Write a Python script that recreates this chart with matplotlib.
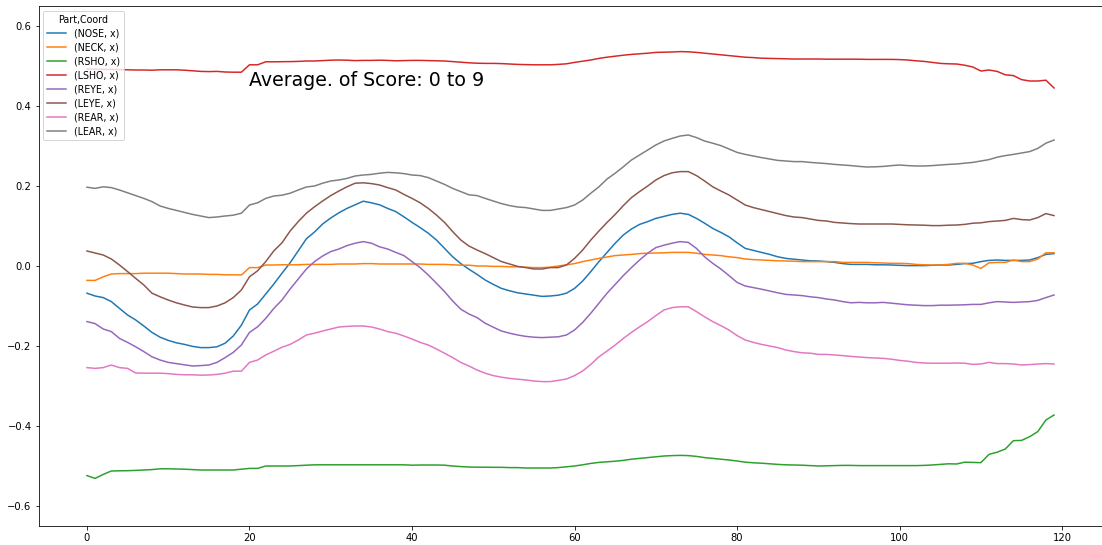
import matplotlib
matplotlib.use("Agg")
import matplotlib.pyplot as plt
import numpy as np

frames = list(range(120))

nose_x = [-0.068, -0.075, -0.079, -0.089, -0.106, -0.1225, -0.135, -0.150, -0.166, -0.178,
          -0.186, -0.192, -0.196, -0.201, -0.204, -0.204, -0.202, -0.193, -0.175, -0.148,
          -0.110, -0.095, -0.070, -0.045, -0.018, 0.008, 0.038, 0.068, 0.085, 0.105,
          0.120, 0.133, 0.144, 0.153, 0.162, 0.158, 0.153, 0.144, 0.136, 0.123,
          0.109, 0.096, 0.082, 0.065, 0.044, 0.023, 0.006, -0.008, -0.021, -0.035,
          -0.046, -0.056, -0.062, -0.067, -0.070, -0.073, -0.076, -0.075, -0.073, -0.068,
          -0.056, -0.0375, -0.014, 0.011, 0.034, 0.057, 0.0775, 0.0925, 0.104, 0.111,
          0.119, 0.124, 0.129, 0.132, 0.129, 0.119, 0.107, 0.094, 0.084, 0.073,
          0.058, 0.044, 0.039, 0.034, 0.029, 0.023, 0.019, 0.017, 0.015, 0.013,
          0.0125, 0.011, 0.009, 0.006, 0.004, 0.004, 0.004, 0.003, 0.003, 0.0025,
          0.0017, 0.001, 0.001, 0.001, 0.0017, 0.0025, 0.0025, 0.004, 0.006, 0.0067,
          0.011, 0.014, 0.015, 0.014, 0.014, 0.014, 0.015, 0.021, 0.029, 0.031]

neck_x = [-0.036, -0.036, -0.027, -0.020, -0.019, -0.019, -0.019, -0.018, -0.018, -0.018,
          -0.018, -0.019, -0.020, -0.020, -0.020, -0.021, -0.021, -0.022, -0.022, -0.0225,
          -0.004, -0.004, 0.0025, 0.0025, 0.003, 0.003, 0.003, 0.004, 0.004, 0.004,
          0.004, 0.005, 0.005, 0.005, 0.006, 0.006, 0.005, 0.005, 0.005, 0.005,
          0.005, 0.005, 0.004, 0.004, 0.004, 0.003, 0.002, 0.002, 0.000, 0.000,
          -0.001, -0.001, -0.002, -0.002, -0.003, -0.004, -0.004, -0.003, 0.000, 0.003,
          0.006, 0.011, 0.015, 0.019, 0.0225, 0.026, 0.0275, 0.029, 0.031, 0.032,
          0.0325, 0.033, 0.034, 0.034, 0.034, 0.032, 0.029, 0.0275, 0.026, 0.023,
          0.021, 0.0175, 0.016, 0.015, 0.014, 0.013, 0.0125, 0.012, 0.011, 0.011,
          0.011, 0.011, 0.011, 0.009, 0.009, 0.009, 0.009, 0.008, 0.0075, 0.0067,
          0.0067, 0.006, 0.004, 0.003, 0.0025, 0.0025, 0.004, 0.0067, 0.0067, 0.0025,
          -0.006, 0.008, 0.009, 0.009, 0.015, 0.011, 0.011, 0.0175, 0.033, 0.033]

rsho_x = [-0.524, -0.531, -0.521, -0.5125, -0.512, -0.5117, -0.511, -0.510, -0.509, -0.507,
          -0.507, -0.5075, -0.508, -0.509, -0.510, -0.510, -0.510, -0.510, -0.510, -0.508,
          -0.506, -0.506, -0.500, -0.500, -0.500, -0.500, -0.499, -0.498, -0.497, -0.497,
          -0.497, -0.497, -0.497, -0.497, -0.497, -0.497, -0.497, -0.497, -0.497, -0.497,
          -0.498, -0.4975, -0.4975, -0.4975, -0.498, -0.500, -0.5015, -0.5025, -0.503, -0.503,
          -0.5033, -0.5033, -0.504, -0.504, -0.505, -0.505, -0.505, -0.505, -0.504, -0.502,
          -0.500, -0.497, -0.4935, -0.491, -0.4895, -0.488, -0.486, -0.483, -0.481, -0.479,
          -0.477, -0.475, -0.474, -0.4735, -0.474, -0.476, -0.479, -0.481, -0.483, -0.485,
          -0.4875, -0.4905, -0.492, -0.493, -0.4945, -0.496, -0.497, -0.4975, -0.498, -0.499,
          -0.500, -0.4995, -0.499, -0.4985, -0.4985, -0.499, -0.499, -0.499, -0.499, -0.499,
          -0.499, -0.499, -0.499, -0.4985, -0.4975, -0.496, -0.4945, -0.495, -0.4905, -0.491,
          -0.4917, -0.4708, -0.4655, -0.4575, -0.4367, -0.436, -0.4267, -0.414, -0.385, -0.3725]

lsho_x = [0.4925, 0.4920, 0.4915, 0.4915, 0.491, 0.4905, 0.490, 0.490, 0.4895, 0.4905,
          0.4905, 0.4905, 0.4895, 0.488, 0.4865, 0.486, 0.4865, 0.485, 0.4845, 0.4845,
          0.503, 0.503, 0.5105, 0.5105, 0.5108, 0.511, 0.5115, 0.5125, 0.5125, 0.5135,
          0.5145, 0.515, 0.5145, 0.5135, 0.514, 0.514, 0.5145, 0.514, 0.513, 0.5135,
          0.514, 0.514, 0.5135, 0.513, 0.5125, 0.511, 0.5095, 0.508, 0.507, 0.5065,
          0.5065, 0.506, 0.505, 0.504, 0.5035, 0.503, 0.503, 0.503, 0.504, 0.5055,
          0.509, 0.512, 0.515, 0.519, 0.522, 0.5245, 0.527, 0.529, 0.5305, 0.532,
          0.534, 0.5345, 0.535, 0.536, 0.5355, 0.534, 0.532, 0.530, 0.528, 0.526,
          0.524, 0.522, 0.521, 0.5195, 0.519, 0.5185, 0.518, 0.5175, 0.5175, 0.5175,
          0.5175, 0.517, 0.517, 0.517, 0.517, 0.517, 0.5165, 0.5165, 0.5165, 0.5165,
          0.516, 0.515, 0.513, 0.5115, 0.509, 0.5065, 0.5055, 0.505, 0.502, 0.4975,
          0.4875, 0.490, 0.4865, 0.478, 0.476, 0.466, 0.4625, 0.4625, 0.4645, 0.445]

reye_x = [-0.139, -0.144, -0.1575, -0.164, -0.181, -0.191, -0.202, -0.214, -0.227, -0.235,
          -0.241, -0.244, -0.247, -0.250, -0.249, -0.2475, -0.241, -0.229, -0.216, -0.1975,
          -0.166, -0.152, -0.131, -0.106, -0.085, -0.0575, -0.0325, -0.0075, 0.011, 0.025,
          0.036, 0.0425, 0.051, 0.057, 0.061, 0.057, 0.048, 0.0425, 0.034, 0.026,
          0.011, -0.004, -0.0225, -0.043, -0.064, -0.0875, -0.108, -0.120, -0.129, -0.143,
          -0.153, -0.1625, -0.168, -0.1725, -0.176, -0.178, -0.179, -0.178, -0.177, -0.1725,
          -0.160, -0.141, -0.118, -0.093, -0.068, -0.046, -0.024, -0.004, 0.015, 0.032,
          0.046, 0.052, 0.057, 0.061, 0.059, 0.044, 0.023, 0.0067, -0.0075, -0.024,
          -0.041, -0.050, -0.054, -0.058, -0.0625, -0.067, -0.071, -0.0725, -0.074, -0.077,
          -0.079, -0.0825, -0.085, -0.089, -0.092, -0.091, -0.092, -0.092, -0.091, -0.093,
          -0.095, -0.097, -0.098, -0.099, -0.099, -0.098, -0.098, -0.0975, -0.097, -0.096,
          -0.096, -0.092, -0.089, -0.090, -0.091, -0.090, -0.089, -0.086, -0.079, -0.0725]

leye_x = [0.0375, 0.0325, 0.0275, 0.0175, 0.0025, -0.014, -0.031, -0.0475, -0.068, -0.077,
          -0.085, -0.092, -0.0975, -0.1025, -0.104, -0.104, -0.100, -0.092, -0.079, -0.060,
          -0.027, -0.012, 0.011, 0.038, 0.058, 0.0875, 0.111, 0.132, 0.148, 0.1625,
          0.176, 0.1875, 0.198, 0.207, 0.208, 0.206, 0.2025, 0.196, 0.190, 0.179,
          0.169, 0.158, 0.144, 0.1275, 0.109, 0.086, 0.065, 0.050, 0.040, 0.031,
          0.021, 0.011, 0.005, -0.001, -0.004, -0.0075, -0.0075, -0.004, -0.004, 0.0025,
          0.019, 0.040, 0.065, 0.0875, 0.109, 0.129, 0.151, 0.171, 0.186, 0.200,
          0.215, 0.226, 0.233, 0.236, 0.236, 0.226, 0.2125, 0.198, 0.1875, 0.1775,
          0.165, 0.1525, 0.146, 0.141, 0.136, 0.131, 0.126, 0.1225, 0.121, 0.1175,
          0.114, 0.1125, 0.109, 0.1075, 0.106, 0.105, 0.105, 0.105, 0.105, 0.105,
          0.104, 0.103, 0.1025, 0.102, 0.101, 0.101, 0.102, 0.1025, 0.104, 0.107,
          0.108, 0.111, 0.1125, 0.114, 0.119, 0.116, 0.115, 0.121, 0.131, 0.126]

rear_x = [-0.254, -0.256, -0.254, -0.2475, -0.254, -0.256, -0.2675, -0.268, -0.268, -0.268,
          -0.269, -0.271, -0.272, -0.272, -0.273, -0.2725, -0.271, -0.268, -0.263, -0.263,
          -0.241, -0.235, -0.2225, -0.213, -0.203, -0.196, -0.185, -0.1725, -0.168, -0.1625,
          -0.1575, -0.1525, -0.151, -0.150, -0.150, -0.1525, -0.1575, -0.164, -0.168, -0.175,
          -0.1825, -0.191, -0.1975, -0.2075, -0.218, -0.229, -0.241, -0.250, -0.260, -0.268,
          -0.274, -0.278, -0.281, -0.283, -0.285, -0.2875, -0.289, -0.289, -0.286, -0.2825,
          -0.274, -0.2625, -0.246, -0.227, -0.2125, -0.1975, -0.181, -0.166, -0.152, -0.139,
          -0.124, -0.110, -0.104, -0.102, -0.102, -0.114, -0.127, -0.139, -0.149, -0.160,
          -0.174, -0.185, -0.191, -0.196, -0.200, -0.204, -0.210, -0.214, -0.217, -0.218,
          -0.221, -0.221, -0.2225, -0.224, -0.226, -0.2275, -0.229, -0.230, -0.231, -0.233,
          -0.236, -0.238, -0.241, -0.2425, -0.243, -0.243, -0.243, -0.2425, -0.243, -0.246,
          -0.245, -0.241, -0.244, -0.244, -0.245, -0.2475, -0.2465, -0.245, -0.244, -0.245]

lear_x = [0.197, 0.194, 0.198, 0.196, 0.190, 0.183, 0.176, 0.169, 0.161, 0.150,
          0.144, 0.139, 0.134, 0.129, 0.125, 0.121, 0.1225, 0.125, 0.127, 0.132,
          0.1525, 0.158, 0.169, 0.175, 0.177, 0.182, 0.190, 0.1975, 0.200, 0.207,
          0.2125, 0.215, 0.219, 0.225, 0.2275, 0.229, 0.232, 0.234, 0.233, 0.231,
          0.2275, 0.226, 0.221, 0.2125, 0.204, 0.194, 0.186, 0.178, 0.176, 0.169,
          0.1625, 0.156, 0.151, 0.1475, 0.146, 0.1425, 0.139, 0.139, 0.1425, 0.146,
          0.1525, 0.165, 0.182, 0.198, 0.2175, 0.232, 0.248, 0.265, 0.2775, 0.290,
          0.3025, 0.3125, 0.319, 0.325, 0.3275, 0.321, 0.3125, 0.307, 0.301, 0.2925,
          0.284, 0.279, 0.275, 0.271, 0.2675, 0.264, 0.2625, 0.261, 0.261, 0.259,
          0.2575, 0.256, 0.254, 0.2525, 0.251, 0.249, 0.2475, 0.248, 0.249, 0.251,
          0.2525, 0.251, 0.250, 0.250, 0.251, 0.2525, 0.254, 0.255, 0.257, 0.259,
          0.2625, 0.266, 0.272, 0.276, 0.279, 0.2825, 0.286, 0.294, 0.307, 0.315]

series_labels = ["(NOSE, x)", "(NECK, x)", "(RSHO, x)", "(LSHO, x)",
                 "(REYE, x)", "(LEYE, x)", "(REAR, x)", "(LEAR, x)"]
legend_title = "Part,Coord"
annotation = "Average. of Score: 0 to 9"

series = [nose_x, neck_x, rsho_x, lsho_x, reye_x, leye_x, rear_x, lear_x]

fig = plt.figure(figsize=(1102 / 72, 545 / 72), dpi=72)
ax = fig.add_axes([38.6 / 1102, 19 / 545, 1063.8 / 1102, 520 / 545])

for vals, lab in zip(series, series_labels):
    ax.plot(frames, vals, label=lab, linewidth=1.5)

ax.set_ylim(-0.65, 0.65)
ax.set_yticks([-0.6, -0.4, -0.2, 0.0, 0.2, 0.4, 0.6])
ax.set_xticks([0, 20, 40, 60, 80, 100, 120])
ax.tick_params(labelsize=10)
ax.text(20, 0.45, annotation, fontsize=19)
ax.legend(title=legend_title, loc="upper left", fontsize=9.5, title_fontsize=9.5,
          labelspacing=0.42)

fig.savefig("out.png", dpi=72)
